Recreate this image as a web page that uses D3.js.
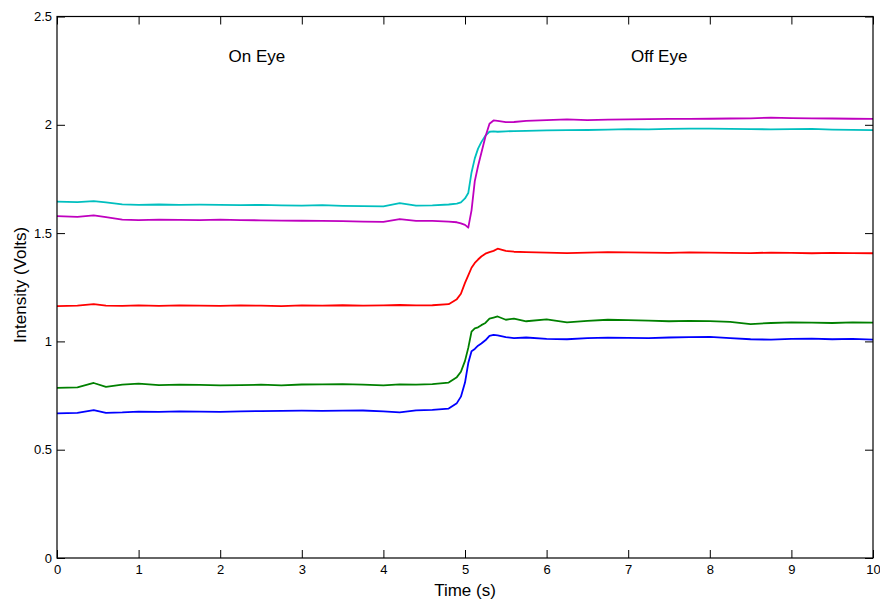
<!DOCTYPE html>
<html>
<head>
<meta charset="utf-8" />
<title>Intensity vs Time</title>
<script src="https://d3js.org/d3.v7.min.js"></script>
<style>
    body { margin: 0; background: #fff; }
    svg { font-family: "Liberation Sans", Arial, Helvetica, sans-serif; }
    .axis path { display: none; }
    .axis line { stroke: #000; stroke-width: 1px; }
    .trace { fill: none; stroke-width: 1.8px; stroke-linejoin: round; }
</style>
</head>
<body>
<svg width="880" height="604"></svg>
<script>
// sample times (s)
var times = [0, 0.25, 0.45, 0.6, 0.8, 1, 1.25, 1.5, 1.75, 2, 2.25, 2.5, 2.75, 3, 3.25, 3.5, 3.75, 4, 4.2, 4.4, 4.6,
    4.8, 4.9, 4.95, 5.0, 5.04, 5.08, 5.12, 5.16, 5.2, 5.25, 5.3, 5.35, 5.4, 5.5, 5.6, 5.75,
    6, 6.25, 6.5, 6.75, 7, 7.25, 7.5, 7.75, 8, 8.25, 8.5, 8.75, 9, 9.25, 9.5, 9.75, 10];

var blueVals = [0.668, 0.670, 0.683, 0.670, 0.672, 0.676, 0.675, 0.677, 0.676, 0.675, 0.677, 0.678, 0.679, 0.680, 0.679, 0.680, 0.681, 0.677, 0.672, 0.682, 0.684,
    0.690, 0.715, 0.745, 0.810, 0.900, 0.955, 0.965, 0.980, 0.990, 1.005, 1.025, 1.030, 1.028, 1.020, 1.015, 1.018,
    1.012, 1.010, 1.015, 1.017, 1.016, 1.015, 1.018, 1.020, 1.021, 1.015, 1.010, 1.008, 1.012, 1.013, 1.010, 1.012, 1.008];

var greenVals = [0.785, 0.788, 0.808, 0.790, 0.800, 0.805, 0.798, 0.800, 0.799, 0.797, 0.798, 0.800, 0.797, 0.801, 0.802, 0.803, 0.800, 0.797, 0.802, 0.800, 0.803,
    0.810, 0.835, 0.860, 0.910, 0.970, 1.045, 1.060, 1.065, 1.075, 1.085, 1.105, 1.110, 1.115, 1.100, 1.105, 1.093,
    1.102, 1.088, 1.095, 1.100, 1.098, 1.096, 1.093, 1.095, 1.094, 1.090, 1.080, 1.085, 1.088, 1.087, 1.085, 1.088, 1.087];

var redVals = [1.163, 1.165, 1.172, 1.165, 1.164, 1.166, 1.164, 1.166, 1.165, 1.164, 1.166, 1.165, 1.163, 1.166, 1.165, 1.167, 1.165, 1.166, 1.168, 1.166, 1.167,
    1.172, 1.195, 1.220, 1.270, 1.305, 1.340, 1.362, 1.378, 1.392, 1.405, 1.412, 1.418, 1.428, 1.418, 1.414, 1.412,
    1.410, 1.408, 1.410, 1.412, 1.411, 1.410, 1.409, 1.411, 1.410, 1.409, 1.408, 1.410, 1.409, 1.407, 1.409, 1.408, 1.407];

var cyanVals = [1.645, 1.643, 1.648, 1.642, 1.633, 1.630, 1.632, 1.630, 1.631, 1.630, 1.629, 1.630, 1.628, 1.627, 1.629, 1.626, 1.625, 1.623, 1.638, 1.627, 1.628,
    1.632, 1.636, 1.642, 1.660, 1.685, 1.780, 1.845, 1.890, 1.920, 1.950, 1.968, 1.970, 1.968, 1.970, 1.971, 1.972,
    1.974, 1.975, 1.976, 1.978, 1.980, 1.979, 1.981, 1.982, 1.982, 1.981, 1.980, 1.979, 1.980, 1.981, 1.978, 1.977, 1.975];

var magentaVals = [1.578, 1.575, 1.582, 1.574, 1.562, 1.560, 1.562, 1.561, 1.560, 1.562, 1.560, 1.559, 1.558, 1.557, 1.556, 1.555, 1.553, 1.552, 1.565, 1.556, 1.556,
    1.553, 1.550, 1.545, 1.538, 1.525, 1.605, 1.740, 1.810, 1.870, 1.945, 2.005, 2.020, 2.018, 2.012, 2.013, 2.018,
    2.022, 2.025, 2.022, 2.024, 2.025, 2.026, 2.027, 2.027, 2.028, 2.029, 2.030, 2.033, 2.031, 2.030, 2.029, 2.028, 2.027];

var xTicks = [0, 1, 2, 3, 4, 5, 6, 7, 8, 9, 10];
var yTicks = [0, 0.5, 1, 1.5, 2, 2.5];

var series = [
    { name: 'blue', color: '#0000ff', values: blueVals },
    { name: 'green', color: '#008000', values: greenVals },
    { name: 'red', color: '#ff0000', values: redVals },
    { name: 'cyan', color: '#00bfbf', values: cyanVals },
    { name: 'magenta', color: '#bf00bf', values: magentaVals }
];

var plotL = 57, plotT = 16.5, plotR = 873, plotB = 558;

var x = d3.scaleLinear().domain([0, 10]).range([plotL, plotR]);
var y = d3.scaleLinear().domain([0, 2.5]).range([plotB, plotT]);

var svg = d3.select('svg');

// traces
var line = d3.line()
    .x(function(d) { return x(d[0]); })
    .y(function(d) { return y(d[1]); });

svg.append('g').attr('class', 'traces')
    .selectAll('path')
    .data(series)
    .enter()
    .append('path')
    .attr('class', 'trace')
    .attr('stroke', function(d) { return d.color; })
    .attr('d', function(d) {
        return line(times.map(function(t, i) { return [t, d.values[i]]; }));
    });

// axes, ticks pointing inward like matlab
function styleAxis(g) {
    g.attr('font-size', 13).attr('font-family', '"Liberation Sans", Arial, sans-serif');
    g.selectAll('text').attr('fill', '#000');
}

svg.append('g').attr('class', 'axis')
    .attr('transform', 'translate(0,' + plotB + ')')
    .call(d3.axisBottom(x).tickValues(xTicks).tickFormat(d3.format('d'))
        .tickSizeInner(-8).tickSizeOuter(0).tickPadding(7))
    .call(styleAxis);

svg.append('g').attr('class', 'axis')
    .attr('transform', 'translate(' + plotL + ',0)')
    .call(d3.axisLeft(y).tickValues(yTicks).tickFormat(function(d) { return d; })
        .tickSizeInner(-8).tickSizeOuter(0).tickPadding(5))
    .call(styleAxis);

svg.append('g').attr('class', 'axis')
    .attr('transform', 'translate(0,' + plotT + ')')
    .call(d3.axisTop(x).tickValues(xTicks).tickFormat('')
        .tickSizeInner(-8).tickSizeOuter(0));

svg.append('g').attr('class', 'axis')
    .attr('transform', 'translate(' + plotR + ',0)')
    .call(d3.axisRight(y).tickValues(yTicks).tickFormat('')
        .tickSizeInner(-8).tickSizeOuter(0));

// box
svg.append('rect')
    .attr('x', plotL).attr('y', plotT)
    .attr('width', plotR - plotL).attr('height', plotB - plotT)
    .attr('fill', 'none').attr('stroke', '#000').attr('stroke-width', 1.2);

// labels
svg.append('text')
    .attr('x', 465).attr('y', 596)
    .attr('text-anchor', 'middle')
    .style('font-size', '17px')
    .text('Time (s)');

svg.append('text')
    .attr('transform', 'translate(26,285) rotate(-90)')
    .attr('text-anchor', 'middle')
    .style('font-size', '17px')
    .text('Intensity (Volts)');

svg.append('text')
    .attr('x', x(2.45)).attr('y', 62)
    .attr('text-anchor', 'middle')
    .style('font-size', '17px')
    .text('On Eye');

svg.append('text')
    .attr('x', x(7.38)).attr('y', 62)
    .attr('text-anchor', 'middle')
    .style('font-size', '17px')
    .text('Off Eye');
</script>
</body>
</html>
